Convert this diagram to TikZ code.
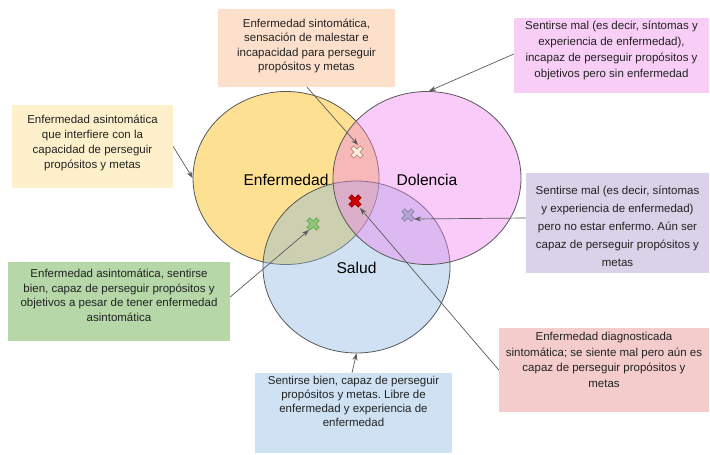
\documentclass[tikz,border=0pt]{standalone}
\usepackage{fontspec}
\setmainfont{Liberation Sans}
\usetikzlibrary{shapes.geometric,arrows.meta,calc}
\frenchspacing
\definecolor{cline}{HTML}{595959}
\definecolor{aline}{HTML}{5A5A5A}
\definecolor{txt}{HTML}{222222}
\definecolor{cyellow}{RGB}{253,224,146}
\definecolor{cpink}{RGB}{240,127,240}
\definecolor{cblue}{RGB}{135,182,225}
\definecolor{bsalmon}{HTML}{FCE0CC}
\definecolor{bpink}{HTML}{F8CEF6}
\definecolor{byellow}{HTML}{FDF0CB}
\definecolor{blav}{HTML}{D9D2E9}
\definecolor{bgreen}{HTML}{B6D7A8}
\definecolor{bred}{HTML}{F4CCCC}
\definecolor{bblue}{HTML}{CFE2F3}
\definecolor{xsfill}{HTML}{FCEDE6}
\definecolor{xsdraw}{HTML}{C2866E}
\definecolor{xrfill}{HTML}{CC0000}
\definecolor{xrdraw}{HTML}{990000}
\definecolor{xgfill}{HTML}{93C47D}
\definecolor{xgdraw}{HTML}{6AA84F}
\definecolor{xlfill}{HTML}{B4A7D6}
\definecolor{xldraw}{HTML}{8880A8}
\newcommand\drawcross[3]{%
  \path[draw=#3, fill=#2, line width=0.7pt, shift={(#1)}, rotate=45]
    (-2,-6.6) -- (2,-6.6) -- (2,-2) -- (6.6,-2) -- (6.6,2) -- (2,2)
    -- (2,6.6) -- (-2,6.6) -- (-2,2) -- (-6.6,2) -- (-6.6,-2) -- (-2,-2) -- cycle;}
\begin{document}
\begin{tikzpicture}[x=1pt,y=-1pt,
  circ/.style={ellipse, draw=cline, line width=0.8pt, inner sep=0pt},
  boxbg/.style={rectangle, inner sep=0pt, draw=none},
  btext/.style={align=center, text=txt, inner sep=0pt, font=\fontsize{11.5}{#1}\selectfont},
  conn/.style={draw=aline, line width=0.7pt, -{Stealth[length=7pt,width=5pt]}},
  big/.style={font=\fontsize{15.6}{18}\selectfont, text=black, inner sep=0pt}]
\useasboundingbox (0,0) rectangle (710,455);
\fill[white] (0,0) rectangle (710,455);
% circles
\node[circ, fill=cyellow, minimum width=186, minimum height=173] (enf) at (286,178) {};
\node[circ, fill=cblue, fill opacity=0.4, minimum width=187, minimum height=172] (sal) at (356.5,267) {};
\node[circ, fill=cpink, fill opacity=0.4, minimum width=188, minimum height=173] (dol) at (427,178) {};
\node[big] (lenf) at (286,180) {Enfermedad};
\node[big] (ldol) at (427,180) {Dolencia};
\node[big] (lsal) at (356.5,268) {Salud};
% crosses
\coordinate (xs) at (357,152);
\coordinate (xr) at (355,201);
\coordinate (xg) at (313,224);
\coordinate (xl) at (408,215);
\drawcross{xs}{xsfill}{xsdraw}
\drawcross{xr}{xrfill}{xrdraw}
\drawcross{xg}{xgfill}{xgdraw}
\drawcross{xl}{xlfill}{xldraw}
\coordinate (ts) at (358,145);
\coordinate (tr) at (360,208);
\coordinate (tg) at (309,230);
\coordinate (tl) at (414,219);
% boxes
\node[boxbg, fill=bsalmon, minimum width=177, minimum height=78] (b1) at (306.5,48) {};
\node[boxbg, fill=bpink, minimum width=195, minimum height=75] (b2) at (611.5,55.5) {};
\node[boxbg, fill=byellow, minimum width=161, minimum height=83] (b3) at (92.5,146.5) {};
\node[boxbg, fill=blav, minimum width=183, minimum height=100] (b4) at (617.5,223) {};
\node[boxbg, fill=bgreen, minimum width=222, minimum height=79] (b5) at (119,301.5) {};
\node[boxbg, fill=bred, minimum width=210, minimum height=84] (b6) at (604,370) {};
\node[boxbg, fill=bblue, minimum width=197, minimum height=80] (b7) at (353.5,413) {};
\node[btext=14.2] (tx1) at (306.5,46) {Enfermedad sintomática,\\sensación de malestar e\\incapacidad para perseguir\\propósitos y metas};
\node[btext=15.8] (tx2) at (611.5,50.3) {Sentirse mal (es decir, síntomas y\\experiencia de enfermedad),\\incapaz de perseguir propósitos y\\objetivos pero sin enfermedad};
\node[btext=15] (tx3) at (92.5,142.5) {Enfermedad asintomática\\que interfiere con la\\capacidad de perseguir\\propósitos y metas};
\node[btext=18] (tx4) at (617.5,226) {Sentirse mal (es decir, síntomas\\y experiencia de enfermedad)\\pero no estar enfermo. Aún ser\\capaz de perseguir propósitos y\\metas};
\node[btext=14.7] (tx5) at (119,295.4) {Enfermedad asintomática, sentirse\\bien, capaz de perseguir propósitos y\\objetivos a pesar de tener enfermedad\\asintomática};
\node[btext=15.5] (tx6) at (604,360) {Enfermedad diagnosticada\\sintomática; se siente mal pero aún es\\capaz de perseguir propósitos y\\metas};
\node[btext=14.2] (tx7) at (353.5,401.3) {Sentirse bien, capaz de perseguir\\propósitos y metas. Libre de\\enfermedad y experiencia de\\enfermedad};
% connectors
\draw[conn] ([xshift=0.5]b1.south) -- (ts);
\draw[conn] ([yshift=1.5]b2.west) -- ([xshift=2]dol.north);
\draw[conn] (b3.east) -- (enf.west);
\draw[conn] ([yshift=5]b4.west) -- (tl);
\draw[conn] ([yshift=4.5]b5.east) -- (tg);
\draw[conn] (b6.west) -- (tr);
\draw[conn] ([xshift=-1.5]b7.north) -- (sal.south);
\end{tikzpicture}
\end{document}
